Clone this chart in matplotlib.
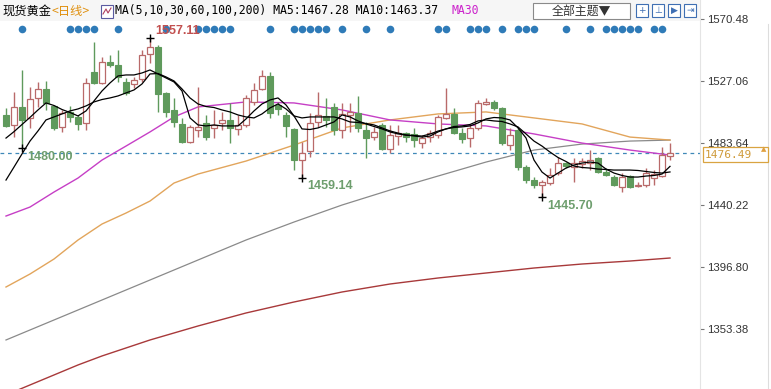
import numpy as np
import matplotlib
matplotlib.use("Agg")
import matplotlib.pyplot as plt
from matplotlib.patches import Rectangle
from matplotlib.lines import Line2D

# daily spot gold candles (oldest first)
opens = [1503.3, 1496.3, 1508.9, 1501.2, 1515.2, 1521.5, 1509.6, 1494.9, 1505.4, 1501.9,
         1497.7, 1533.4, 1525.7, 1540.4, 1538.3, 1526.4, 1525.0, 1528.5, 1546.0, 1550.9,
         1518.7, 1506.8, 1497.0, 1484.3, 1492.8, 1497.7, 1494.2, 1497.7, 1499.8, 1493.5,
         1496.3, 1512.4, 1521.5, 1530.6, 1510.3, 1503.3, 1493.5, 1471.7, 1478.0, 1498.4,
         1502.6, 1508.9, 1492.8, 1503.3, 1504.7, 1492.8, 1487.8, 1496.3, 1479.4, 1488.5,
         1490.6, 1489.9, 1483.6, 1487.8, 1489.2, 1501.2, 1504.0, 1490.6, 1487.1, 1494.2,
         1511.0, 1512.4, 1508.2, 1482.2, 1492.8, 1466.8, 1457.7, 1454.2, 1455.6, 1462.6,
         1469.6, 1466.8, 1468.9, 1469.6, 1473.1, 1463.3, 1459.8, 1452.8, 1460.5, 1453.5,
         1454.2, 1459.1, 1460.5, 1474.5]
highs = [1508.2, 1519.4, 1534.8, 1522.9, 1526.4, 1527.1, 1510.3, 1506.8, 1509.6, 1503.3,
         1529.2, 1554.4, 1543.9, 1545.3, 1548.8, 1529.2, 1529.9, 1548.8, 1557.11, 1552.3,
         1519.4, 1515.2, 1501.2, 1496.3, 1522.9, 1503.3, 1506.8, 1505.4, 1511.7, 1503.3,
         1517.3, 1525.7, 1534.8, 1533.4, 1512.4, 1505.4, 1494.2, 1484.3, 1504.7, 1519.4,
         1515.2, 1511.7, 1511.7, 1511.7, 1516.6, 1498.4, 1494.9, 1497.7, 1496.3, 1496.3,
         1491.4, 1494.2, 1489.2, 1492.8, 1503.3, 1522.2, 1508.2, 1494.2, 1496.3, 1513.8,
         1515.2, 1513.8, 1508.9, 1494.2, 1494.2, 1468.2, 1459.8, 1457.7, 1466.1, 1473.8,
         1470.3, 1473.1, 1473.1, 1478.7, 1473.8, 1466.1, 1461.2, 1462.6, 1461.2, 1456.3,
         1466.1, 1464.7, 1480.8, 1483.6]
lows = [1494.8, 1487.9, 1480.00, 1494.2, 1508.9, 1506.8, 1492.8, 1491.4, 1498.4, 1492.8,
        1492.8, 1525.0, 1525.0, 1536.9, 1526.4, 1517.3, 1522.2, 1526.4, 1539.7, 1505.4,
        1501.9, 1494.9, 1483.6, 1483.6, 1487.8, 1485.7, 1487.1, 1492.8, 1483.6, 1489.2,
        1494.9, 1510.3, 1520.8, 1501.2, 1503.3, 1487.8, 1464.7, 1459.14, 1473.8, 1494.9,
        1494.9, 1489.2, 1487.1, 1491.4, 1491.4, 1473.1, 1485.7, 1478.7, 1476.6, 1482.2,
        1484.3, 1480.8, 1480.1, 1484.3, 1487.1, 1500.5, 1489.9, 1483.6, 1480.8, 1492.8,
        1510.3, 1506.8, 1482.2, 1478.7, 1464.7, 1455.6, 1452.1, 1445.70, 1454.2, 1461.2,
        1466.1, 1456.3, 1466.1, 1464.7, 1462.6, 1460.5, 1453.5, 1449.3, 1452.1, 1452.8,
        1452.8, 1454.2, 1459.8, 1471.7]
closes = [1495.5, 1508.9, 1499.8, 1514.5, 1521.5, 1511.7, 1494.2, 1504.7, 1501.9, 1497.0,
          1525.7, 1525.7, 1540.4, 1538.3, 1529.9, 1518.7, 1527.8, 1545.3, 1550.9, 1518.0,
          1505.4, 1498.4, 1484.3, 1494.9, 1494.9, 1487.8, 1496.3, 1499.8, 1494.2, 1496.3,
          1515.2, 1520.8, 1530.6, 1504.7, 1507.5, 1495.5, 1471.7, 1476.6, 1497.7, 1503.3,
          1499.8, 1492.8, 1504.0, 1505.4, 1494.2, 1487.1, 1491.4, 1479.4, 1489.2, 1490.6,
          1487.8, 1485.7, 1487.1, 1490.6, 1501.9, 1504.0, 1490.6, 1486.4, 1494.2, 1511.7,
          1512.4, 1508.2, 1483.6, 1489.2, 1466.8, 1457.7, 1454.2, 1456.3, 1461.2, 1469.6,
          1467.5, 1469.6, 1470.9, 1471.7, 1463.3, 1461.2, 1454.2, 1459.8, 1452.8, 1454.2,
          1462.6, 1461.9, 1475.2, 1476.49]

# short moving averages, one value per candle
ma5 = [1487.1, 1491.6, 1496.6, 1501.6, 1506.8, 1511.7, 1509.9, 1507.1, 1505.0, 1502.6,
       1506.1, 1513.1, 1520.1, 1525.7, 1530.6, 1531.3, 1531.3, 1532.7, 1534.8, 1532.0,
       1529.2, 1526.4, 1520.1, 1501.2, 1496.3, 1495.6, 1496.3, 1495.6, 1495.6, 1495.6,
       1500.5, 1506.1, 1511.0, 1513.8, 1515.2, 1510.3, 1502.6, 1493.5, 1493.1, 1494.2,
       1496.3, 1498.4, 1503.3, 1501.9, 1499.1, 1497.0, 1495.2, 1493.5, 1491.4, 1490.0,
       1489.2, 1488.9, 1488.5, 1489.9, 1492.0, 1493.5, 1494.5, 1494.9, 1495.6, 1497.7,
       1500.5, 1501.5, 1501.2, 1499.8, 1494.2, 1487.2, 1471.7, 1463.3, 1459.1, 1462.6,
       1466.1, 1468.2, 1469.6, 1470.3, 1469.6, 1465.4, 1462.6, 1460.9, 1459.8, 1459.8,
       1460.5, 1460.9, 1461.9, 1467.28]
ma10 = [1457.7, 1466.8, 1476.0, 1485.0, 1492.1, 1499.8, 1501.9, 1504.0, 1506.1, 1507.5,
        1509.6, 1512.4, 1514.1, 1515.2, 1516.6, 1518.7, 1520.8, 1525.0, 1532.0, 1532.3,
        1529.9, 1527.1, 1521.5, 1515.2, 1511.0, 1509.2, 1508.5, 1506.8, 1505.4, 1503.3,
        1501.9, 1501.2, 1504.0, 1508.2, 1511.0, 1507.5, 1502.6, 1501.2, 1501.9, 1501.9,
        1501.9, 1501.9, 1500.5, 1498.4, 1498.0, 1497.3, 1496.3, 1494.2, 1492.1, 1490.6,
        1489.2, 1488.6, 1487.8, 1488.5, 1491.4, 1493.5, 1495.2, 1495.6, 1496.6, 1499.1,
        1499.8, 1499.1, 1498.7, 1497.0, 1494.9, 1490.0, 1485.0, 1481.5, 1477.3, 1473.5,
        1470.7, 1467.5, 1466.5, 1466.1, 1465.4, 1465.1, 1464.7, 1464.7, 1464.7, 1464.4,
        1463.7, 1463.0, 1462.6, 1463.37]

# long moving averages, read at these candles
ma_days = [0, 3, 6, 9, 12, 15, 18, 21, 24, 30, 36, 42, 48, 54, 60, 66, 72, 78, 83]
ma30 = [1432.5, 1438.8, 1449.3, 1459.1, 1471.7, 1481.5, 1491.4, 1501.9, 1508.9, 1512.4,
        1511.7, 1506.8, 1499.8, 1497.0, 1495.6, 1490.0, 1483.6, 1478.7, 1475.2]
ma60 = [1382.8, 1391.9, 1402.4, 1415.7, 1426.9, 1434.6, 1443.0, 1455.6, 1461.9, 1471.0,
        1482.2, 1494.2, 1499.8, 1504.0, 1505.4, 1501.2, 1497.0, 1487.8, 1485.7]
ma100 = [1345.7, 1352.7, 1359.7, 1366.7, 1373.7, 1380.7, 1387.7, 1394.7, 1401.7, 1415.7,
         1428.3, 1440.2, 1450.7, 1460.5, 1470.3, 1478.7, 1482.9, 1485.0, 1485.7]
ma200 = [1307.2, 1314.2, 1321.2, 1328.2, 1334.5, 1340.1, 1345.7, 1350.6, 1355.5, 1364.6,
         1372.3, 1379.3, 1384.9, 1389.1, 1392.6, 1396.1, 1398.9, 1401.0, 1403.1]

event_days = [2, 8, 9, 10, 11, 14, 20, 24, 25, 26, 27, 28, 33, 36, 37, 38, 39, 40, 42, 45,
              48, 54, 55, 58, 59, 60, 62, 64, 65, 66, 70, 73, 75, 76, 77, 78, 79, 81, 82]
price_ticks = [1353.38, 1396.80, 1440.22, 1483.64, 1527.06, 1570.48]

W, H = 771, 389
CJK = ['Noto Sans CJK SC', 'DejaVu Sans']
UP = '#b96a6a'
DOWN = '#5f9a5c'

fig = plt.figure(figsize=(W / 100, H / 100), dpi=100)
fig.patch.set_facecolor('white')
ax = fig.add_axes([0, 0, 700 / W, 1])
ax.set_xlim(-0.75, 86.75)
ax.set_ylim(1311.37, 1583.79)

x = np.arange(len(closes))
o = np.array(opens); c = np.array(closes)
h = np.array(highs); l = np.array(lows)
up = c >= o
lo_body = np.minimum(o, c)
hi_body = np.maximum(o, c)
body = np.maximum(hi_body - lo_body, 0.35)

# wicks
ax.vlines(x[~up], l[~up], h[~up], color=DOWN, lw=1, zorder=3)
ax.vlines(x[up], l[up], lo_body[up], color=UP, lw=1, zorder=3)
ax.vlines(x[up], hi_body[up], h[up], color=UP, lw=1, zorder=3)
# bodies
ax.bar(x[~up], body[~up], bottom=lo_body[~up], width=0.72, color=DOWN,
       edgecolor=DOWN, lw=0.8, zorder=4)
ax.bar(x[up], body[up], bottom=lo_body[up], width=0.72, color='white',
       edgecolor=UP, lw=0.9, zorder=4)

# moving averages
ax.plot(ma_days, ma200, color='#a8393a', lw=1.0, zorder=2)
ax.plot(ma_days, ma100, color='#8a8a8a', lw=0.9, zorder=2)
ax.plot(ma_days, ma60, color='#e2a55c', lw=1.0, zorder=2)
ax.plot(ma_days, ma30, color='#c63fc6', lw=1.0, zorder=2)
ax.plot(x, ma10, color='black', lw=0.9, zorder=5)
ax.plot(x, ma5, color='black', lw=0.9, zorder=5)

# current price line
ax.axhline(closes[-1], color='#3f88b8', lw=0.9, ls=(0, (3, 3)), zorder=1)

# event dots
ax.scatter(event_days, [1563.5] * len(event_days), s=30, color='#2f7bb8', zorder=6,
           linewidths=0)

# high / low markers
hi_i = int(np.argmax(h))
ax.plot(hi_i, h[hi_i], marker='+', color='black', ms=6, mew=1, zorder=7)
ax.annotate(f'{h[hi_i]:.2f}', (hi_i, h[hi_i]), xytext=(4, 5), textcoords='offset points',
            color='#c2504f', fontsize=9, fontweight='bold', family='Liberation Sans',
            va='center', zorder=8)
for i in [2, 37, 67]:
    ax.plot(i, l[i], marker='+', color='black', ms=6, mew=1, zorder=7)
    ax.annotate(f'{l[i]:.2f}', (i, l[i]), xytext=(4, -6), textcoords='offset points',
                color='#6e9e6e', fontsize=9, fontweight='bold', family='Liberation Sans',
                va='center', zorder=8)

ax.set_xticks([])
ax.yaxis.tick_right()
ax.set_yticks(price_ticks)
ax.set_yticklabels([f'{t:.2f}' for t in price_ticks])
ax.tick_params(axis='y', length=3, width=0.8, color='#777777', pad=2,
               labelsize=8.2, labelcolor='#333333')
for lab in ax.get_yticklabels():
    lab.set_family('Liberation Sans')
for s in ['top', 'left', 'bottom']:
    ax.spines[s].set_visible(False)
ax.spines['right'].set_color('#e4e4e4')
ax.spines['right'].set_linewidth(0.8)


def fx(px):
    return px / W


def fy(py):
    return 1 - py / H


# header strip over the plot area only, so the top price label stays visible
fig.add_artist(Rectangle((0, fy(21)), 700 / W, 21 / H, transform=fig.transFigure,
                         facecolor='#f6f6f6', edgecolor='none', zorder=10))
fig.text(fx(2), fy(11), '现货黄金', family=CJK, fontsize=8.8, va='center', zorder=11)
fig.text(fx(51), fy(11), '<日线>', family=CJK, fontsize=8.8, va='center',
         color='#e0900f', zorder=11)
fig.add_artist(Rectangle((fx(101), fy(18)), 12 / W, 13 / H, transform=fig.transFigure,
                         facecolor='white', edgecolor='#5a5aa0', lw=0.8, zorder=11))
fig.add_artist(Line2D([fx(103), fx(106), fx(108), fx(111)], [fy(14), fy(9), fy(13), fy(8)],
                      transform=fig.transFigure, color='#b04060', lw=0.8, zorder=12))
ma_text = 'MA(5,10,30,60,100,200) MA5:1467.28 MA10:1463.37'
fig.text(fx(115), fy(11), ma_text, family='DejaVu Sans Mono', fontsize=8.3,
         va='center', zorder=11)
fig.text(fx(115 + 7 * (len(ma_text) + 1)), fy(11), 'MA30', family='DejaVu Sans Mono',
         fontsize=8.3, va='center', color='#cc22cc', zorder=11)

# theme button and tool icons
fig.add_artist(Rectangle((fx(533), fy(19)), 97 / W, 16 / H, transform=fig.transFigure,
                         facecolor='white', edgecolor='#8a8a8a', lw=0.8, zorder=11))
fig.text(fx(581), fy(11), '全部主题▼', family=CJK, fontsize=8.6, va='center',
         ha='center', color='#333333', zorder=12)
for bx, glyph in zip([636, 652, 668, 684], ['+', '⊥', '▶', '⇥']):
    fig.add_artist(Rectangle((fx(bx), fy(17)), 12 / W, 13 / H, transform=fig.transFigure,
                             facecolor='white', edgecolor='#3f6fb3', lw=0.8, zorder=11))
    fig.text(fx(bx + 6), fy(10.5), glyph, family='DejaVu Sans', fontsize=6.5,
             va='center', ha='center', color='#3f6fb3', zorder=12)

# current price tag
fig.add_artist(Rectangle((fx(703), fy(162)), 65 / W, 15 / H, transform=fig.transFigure,
                         facecolor='white', edgecolor='#d9a441', lw=0.9, zorder=11))
fig.text(fx(705), fy(155), f'{closes[-1]:.2f}', family='DejaVu Sans Mono', fontsize=8.0,
         va='center', color='#cf9a3a', zorder=12)
fig.text(fx(764), fy(149), '▲', family='DejaVu Sans', fontsize=5, va='center',
         ha='center', color='#e0a040', zorder=12)
fig.add_artist(Line2D([fx(768), fx(768)], [0, fy(24)], transform=fig.transFigure,
                      color='#dddddd', lw=0.8, zorder=9))

fig.savefig('out.png', dpi=100)
